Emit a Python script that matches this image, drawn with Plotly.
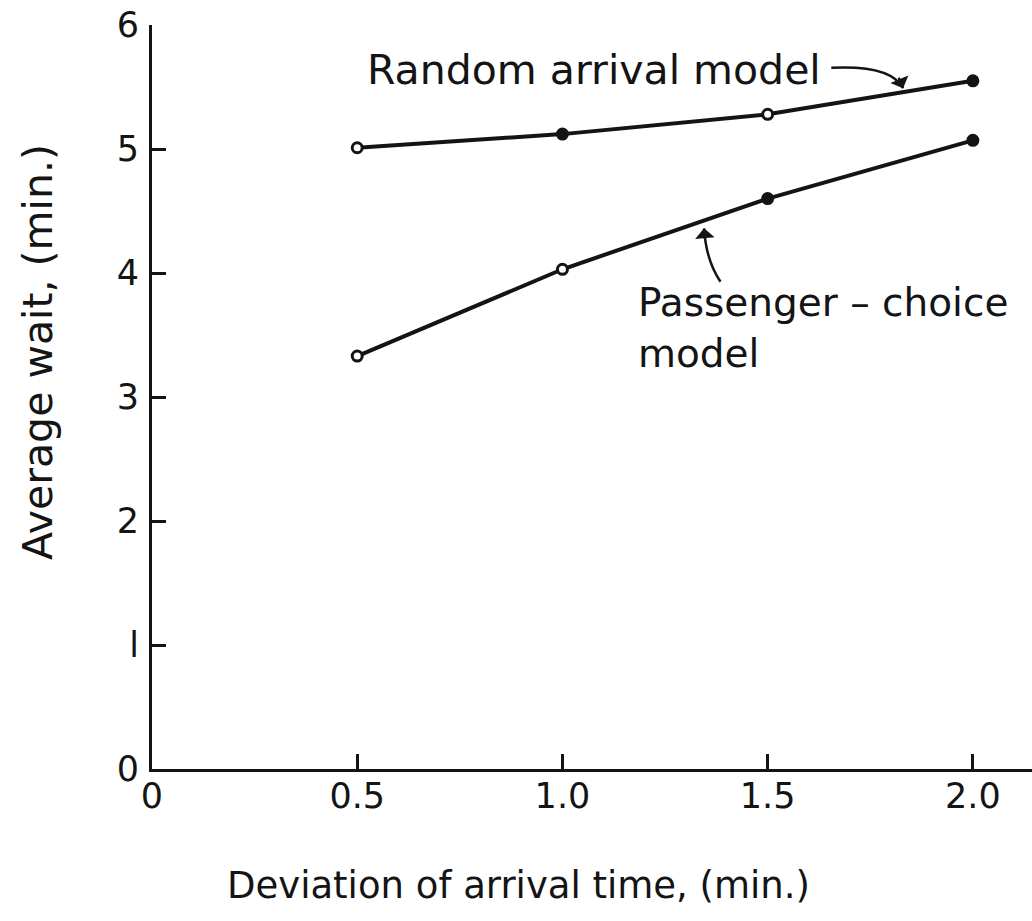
import plotly.graph_objects as go

# Deviation of arrival time (min.)
deviation = [0.5, 1.0, 1.5, 2.0]

# Average wait (min.) for each model
random_arrival = [5.01, 5.12, 5.28, 5.55]
passenger_choice = [3.33, 4.03, 4.60, 5.07]

x_ticks = [0, 0.5, 1.0, 1.5, 2.0]
x_tick_text = ["0", "0.5", "1.0", "1.5", "2.0"]
y_ticks = [0, 1, 2, 3, 4, 5, 6]
y_tick_text = ["0", "l", "2", "3", "4", "5", "6"]

FONT = "DejaVu Sans"
INK = "#141414"


def marker_style(filled):
    return dict(
        size=10,
        symbol="circle",
        color=[INK if f else "white" for f in filled],
        line=dict(color=INK, width=3),
    )


fig = go.Figure()

fig.add_trace(go.Scatter(
    x=deviation, y=random_arrival, mode="lines+markers",
    line=dict(color=INK, width=4),
    marker=marker_style([False, True, False, True]),
    showlegend=False,
))

fig.add_trace(go.Scatter(
    x=deviation, y=passenger_choice, mode="lines+markers",
    line=dict(color=INK, width=4),
    marker=marker_style([False, False, True, True]),
    showlegend=False,
))

# curved leader lines from the labels to the curves
fig.add_shape(type="path", xref="x", yref="y",
              path="M 1.655,5.655 Q 1.80,5.68 1.83,5.49",
              line=dict(color=INK, width=2.5))
fig.add_shape(type="path", xref="x", yref="y",
              path="M 1.385,3.93 Q 1.35,4.10 1.345,4.36",
              line=dict(color=INK, width=2.5))

annotations = [
    dict(x=0.52, y=5.64, xref="x", yref="y", text="Random arrival model",
         showarrow=False, xanchor="left", yanchor="middle",
         font=dict(family=FONT, size=41, color=INK)),
    dict(x=1.18, y=3.56, xref="x", yref="y",
         text="Passenger – choice<br>model",
         showarrow=False, xanchor="left", yanchor="middle", align="left",
         font=dict(family=FONT, size=39, color=INK)),
    # arrowheads at the ends of the leader lines
    dict(x=1.83, y=5.49, xref="x", yref="y", ax=-5, ay=-12, text="",
         showarrow=True, arrowhead=1, arrowsize=1.3, arrowwidth=2.5,
         arrowcolor=INK),
    dict(x=1.345, y=4.36, xref="x", yref="y", ax=1, ay=12, text="",
         showarrow=True, arrowhead=1, arrowsize=1.3, arrowwidth=2.5,
         arrowcolor=INK),
    # axis titles
    dict(x=518, y=885, xref="paper", yref="paper", text="Deviation of arrival time, (min.)",
         showarrow=False, xanchor="center", yanchor="middle",
         font=dict(family=FONT, size=37, color=INK)),
    dict(x=38, y=352, xref="paper", yref="paper", text="Average wait, (min.)",
         showarrow=False, xanchor="center", yanchor="middle", textangle=-90,
         font=dict(family=FONT, size=41, color=INK)),
]

# convert the pixel-placed titles to paper fractions
W, H = 1032, 921
ML, MR, MT, MB = 152, 0, 25, 152
pw, ph = W - ML - MR, H - MT - MB
for a in annotations[-2:]:
    a["x"] = (a["x"] - ML) / pw
    a["y"] = (H - MB - a["y"]) / ph

fig.update_layout(
    width=W, height=H,
    margin=dict(l=ML, r=MR, t=MT, b=MB, pad=0),
    paper_bgcolor="white", plot_bgcolor="white",
    font=dict(family=FONT, color=INK),
    annotations=annotations,
)

fig.update_xaxes(
    range=[0, 2.144],
    tickvals=x_ticks, ticktext=x_tick_text,
    ticks="inside", ticklen=15, tickwidth=2.5, tickcolor=INK,
    showline=True, linewidth=3, linecolor=INK,
    showgrid=False, zeroline=False,
    tickfont=dict(family=FONT, size=35, color=INK),
    ticklabelstandoff=-6,
)
fig.update_yaxes(
    range=[0, 6],
    tickvals=y_ticks, ticktext=y_tick_text,
    ticks="inside", ticklen=14, tickwidth=2.5, tickcolor=INK,
    showline=True, linewidth=3, linecolor=INK,
    showgrid=False, zeroline=False,
    tickfont=dict(family=FONT, size=35, color=INK),
    ticklabelstandoff=3,
)

fig.write_html("out.html")
